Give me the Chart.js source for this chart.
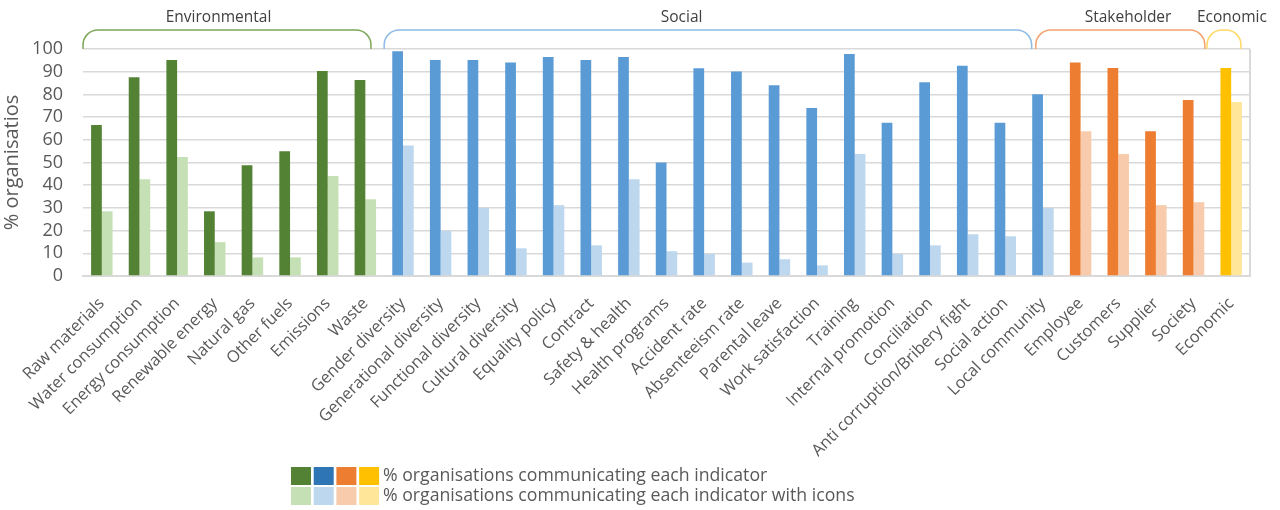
<!DOCTYPE html>
<html>
<head>
<meta charset="utf-8">
<script src="https://cdn.jsdelivr.net/npm/chart.js@4.4.1/dist/chart.umd.min.js"></script>
<style>
  html, body { margin: 0; padding: 0; background: #ffffff; }
  #wrap { width: 1280px; height: 510px; position: relative; }
</style>
</head>
<body>
<div id="wrap"><canvas id="chart" width="1280" height="510"></canvas></div>
<script>
// Indicator names, grouped by dimension
const environmentalIndicators = ['Raw materials', 'Water consumption', 'Energy consumption', 'Renewable energy',
  'Natural gas', 'Other fuels', 'Emissions', 'Waste'];
const socialIndicators = ['Gender diversity', 'Generational diversity', 'Functional diversity', 'Cultural diversity',
  'Equality policy', 'Contract', 'Safety & health', 'Health programs', 'Accident rate', 'Absenteeism rate',
  'Parental leave', 'Work satisfaction', 'Training', 'Internal promotion', 'Conciliation',
  'Anti corruption/Bribery fight', 'Social action', 'Local community'];
const stakeholderIndicators = ['Employee', 'Customers', 'Supplier', 'Society'];
const economicIndicators = ['Economic'];

// % organisations communicating each indicator
const environmentalAll = [66.5, 87.6, 95.1, 28.5, 48.8, 55.0, 90.3, 86.3];
const socialAll = [99.0, 95.1, 95.1, 94.1, 96.5, 95.1, 96.5, 50.0, 91.5, 90.1, 84.0, 74.0, 97.8, 67.5, 85.3, 92.6, 67.5, 80.1];
const stakeholderAll = [94.0, 91.6, 63.8, 77.5];
const economicAll = [91.6];

// % organisations communicating each indicator with icons
const environmentalIcons = [28.5, 42.6, 52.4, 14.9, 8.2, 8.2, 44.0, 33.8];
const socialIcons = [57.5, 19.9, 30.0, 12.2, 31.2, 13.5, 42.6, 10.9, 9.7, 5.9, 7.4, 4.7, 53.7, 9.7, 13.5, 18.4, 17.5, 30.0];
const stakeholderIcons = [63.8, 53.7, 31.2, 32.5];
const economicIcons = [76.6];

const groupNames = ['Environmental', 'Social', 'Stakeholder', 'Economic'];
const yTicks = [0, 10, 20, 30, 40, 50, 60, 70, 80, 90, 100];

const FONT = "'Open Sans', 'Noto Sans', sans-serif";
const TEXT = '#595959';

const groups = [
  { name: groupNames[0], labels: environmentalIndicators, all: environmentalAll, icons: environmentalIcons,
    dark: '#548235', light: '#C5E0B4', legendDark: '#548235', bracket: '#7ea75a', span: [-0.5, 7.15], labelAt: 3.1 },
  { name: groupNames[1], labels: socialIndicators, all: socialAll, icons: socialIcons,
    dark: '#5B9BD5', light: '#BDD7EE', legendDark: '#2E75B6', bracket: '#8dbbe6', span: [7.5, 24.7], labelAt: 15.4 },
  { name: groupNames[2], labels: stakeholderIndicators, all: stakeholderAll, icons: stakeholderIcons,
    dark: '#ED7D31', light: '#F8CBAD', legendDark: '#ED7D31', bracket: '#f3a26c', span: [24.81, 29.3], labelAt: 27.26 },
  { name: groupNames[3], labels: economicIndicators, all: economicAll, icons: economicIcons,
    dark: '#FFC000', light: '#FFE699', legendDark: '#FFC000', bracket: '#ffd966', span: [29.36, 30.26], labelAt: 30.02 }
];

const categories = groups.flatMap(g => g.labels);
const allValues = groups.flatMap(g => g.all);
const iconValues = groups.flatMap(g => g.icons);
const darkColors = groups.flatMap(g => g.labels.map(() => g.dark));
const lightColors = groups.flatMap(g => g.labels.map(() => g.light));

// Rounded brackets with group names above the plot area
const groupBrackets = {
  id: 'groupBrackets',
  afterDraw(chart) {
    const { ctx, chartArea, scales: { x } } = chart;
    const top = 30, bottom = chartArea.top;
    ctx.save();
    groups.forEach(g => {
      const x0 = x.getPixelForValue(g.span[0]);
      const x1 = x.getPixelForValue(g.span[1]);
      const r = Math.min(15, (x1 - x0) / 2, bottom - top);
      ctx.beginPath();
      ctx.moveTo(x0, bottom);
      ctx.arcTo(x0, top, x0 + r, top, r);
      ctx.lineTo(x1 - r, top);
      ctx.arcTo(x1, top, x1, bottom, r);
      ctx.lineTo(x1, bottom);
      ctx.strokeStyle = g.bracket;
      ctx.lineWidth = 1.5;
      ctx.stroke();
      ctx.fillStyle = '#404040';
      ctx.font = '15.5px ' + FONT;
      ctx.textAlign = 'center';
      ctx.textBaseline = 'middle';
      ctx.fillText(g.name, x.getPixelForValue(g.labelAt), 18);
    });
    // right edge of the plot frame
    ctx.beginPath();
    ctx.moveTo(chartArea.right, chartArea.top);
    ctx.lineTo(chartArea.right, chartArea.bottom);
    ctx.strokeStyle = '#d9d9d9';
    ctx.lineWidth = 2;
    ctx.stroke();
    ctx.restore();
  }
};

// Legend: one swatch per dimension, followed by the series name
const swatchLegend = {
  id: 'swatchLegend',
  afterDraw(chart) {
    const { ctx } = chart;
    const rows = [
      { text: '% organisations communicating each indicator', colors: groups.map(g => g.legendDark), y: 467 },
      { text: '% organisations communicating each indicator with icons', colors: groups.map(g => g.light), y: 487 }
    ];
    ctx.save();
    rows.forEach(row => {
      row.colors.forEach((c, i) => {
        ctx.fillStyle = c;
        ctx.fillRect(291 + i * 22.7, row.y, 20, 18);
      });
      ctx.fillStyle = TEXT;
      ctx.font = '17.7px ' + FONT;
      ctx.textAlign = 'left';
      ctx.textBaseline = 'middle';
      ctx.fillText(row.text, 383, row.y + 9);
    });
    ctx.restore();
  }
};

new Chart(document.getElementById('chart'), {
  type: 'bar',
  data: {
    labels: categories,
    datasets: [
      { label: '% organisations communicating each indicator', data: allValues,
        backgroundColor: darkColors, categoryPercentage: 0.57, barPercentage: 1.0 },
      { label: '% organisations communicating each indicator with icons', data: iconValues,
        backgroundColor: lightColors, categoryPercentage: 0.57, barPercentage: 1.0 }
    ]
  },
  options: {
    responsive: false,
    animation: false,
    layout: { padding: { top: 49, right: 30, left: 0, bottom: 0 } },
    plugins: { legend: { display: false }, tooltip: { enabled: false } },
    scales: {
      x: {
        grid: { display: false },
        border: { display: true, color: '#d9d9d9', width: 2 },
        ticks: {
          autoSkip: false, minRotation: 45, maxRotation: 45, padding: 10,
          color: TEXT, font: { family: FONT, size: 16.4 }
        },
        afterFit(scale) { scale.height = 234; }
      },
      y: {
        min: 0, max: 100,
        afterBuildTicks(scale) { scale.ticks = yTicks.map(v => ({ value: v })); },
        grid: { color: '#d9d9d9', lineWidth: 1.5, drawTicks: false },
        border: { display: false },
        ticks: { autoSkip: false, padding: 20, color: TEXT, font: { family: FONT, size: 18 } },
        title: { display: true, text: '% organisatios', color: TEXT, font: { family: FONT, size: 20 }, padding: 0 },
        afterFit(scale) { scale.width = 83; }
      }
    }
  },
  plugins: [groupBrackets, swatchLegend]
});
</script>
</body>
</html>
